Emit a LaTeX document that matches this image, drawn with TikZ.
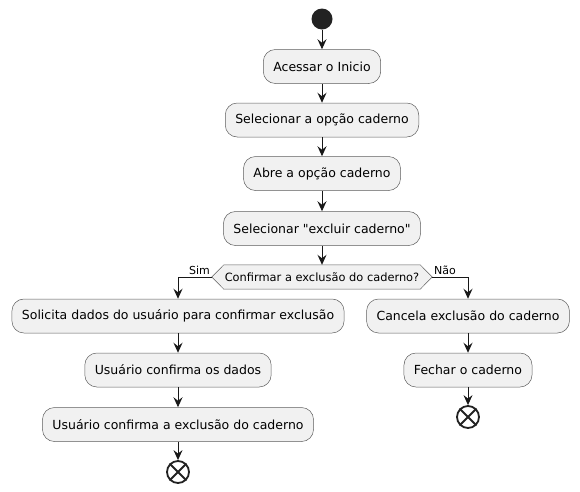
\documentclass[tikz,border=0pt]{standalone}
\usepackage{fontspec}
\setmainfont{DejaVu Sans}
\usetikzlibrary{arrows.meta}
\definecolor{boxfill}{HTML}{F1F1F1}
\definecolor{linecol}{HTML}{181818}
\definecolor{dotcol}{HTML}{222222}
\tikzset{
 act/.style={draw=linecol!70, fill=boxfill, rounded corners=12pt, minimum height=34pt,
   font=\fontsize{12.5}{14}\selectfont, line width=0.5pt, inner xsep=10pt},
 flow/.style={draw=linecol, line width=1pt, -{Stealth[length=10pt,width=9pt,inset=3.5pt]}},
 lbl/.style={font=\fontsize{11}{13}\selectfont, inner sep=1.5pt},
 stopnode/.style={circle, draw=dotcol, line width=1.8pt, minimum size=22pt, inner sep=0pt},
}

\begin{document}
\begin{tikzpicture}[x=1pt,y=-1pt]
\useasboundingbox (0,0) rectangle (580,491);

% main column
\node[circle, fill=dotcol, minimum size=21pt, inner sep=0pt] (start) at (322,19) {};
\node[act] (a1) at (322,66.5) {Acessar o Inicio};
\node[act] (a2) at (322,120) {Selecionar a opção caderno};
\node[act] (a3) at (322,173.5) {Abre a opção caderno};
\node[act] (a4) at (322,228.5) {Selecionar \textquotedbl excluir caderno\textquotedbl};

% decision
\node[font=\fontsize{11.4}{13}\selectfont, minimum width=220pt, minimum height=24pt, inner sep=0pt] (dec) at (322,277) {};
\draw[draw=linecol!70, fill=boxfill, line width=0.5pt] (dec.west) -- ([xshift=12pt]dec.north west) -- ([xshift=-12pt]dec.north east)
  -- (dec.east) -- ([xshift=-12pt]dec.south east) -- ([xshift=12pt]dec.south west) -- cycle;
\node[font=\fontsize{11.4}{13}\selectfont] at (dec) {Confirmar a exclusão do caderno?};

% sim
\node[act] (s1) at (178,316) {Solicita dados do usuário para confirmar exclusão};
\node[act] (s2) at (178,370) {Usuário confirma os dados};
\node[act] (s3) at (178,424.5) {Usuário confirma a exclusão do caderno};
\node[stopnode] (e1) at (178,472) {};
\draw[dotcol, line width=1.8pt] (e1.north west) -- (e1.south east) (e1.north east) -- (e1.south west);

% nao
\node[act] (c1) at (468,316) {Cancela exclusão do caderno};
\node[act] (c2) at (468,370) {Fechar o caderno};
\node[stopnode] (e2) at (468,417) {};
\draw[dotcol, line width=1.8pt] (e2.north west) -- (e2.south east) (e2.north east) -- (e2.south west);

\draw[flow] (start) -- (a1);
\draw[flow] (a1) -- (a2);
\draw[flow] (a2) -- (a3);
\draw[flow] (a3) -- (a4);
\draw[flow] (a4) -- (dec);
\draw[flow] (dec.west) node[lbl, above left] {Sim} -| (s1);
\draw[flow] (dec.east) node[lbl, above right] {Não} -| (c1);
\draw[flow] (s1) -- (s2);
\draw[flow] (s2) -- (s3);
\draw[flow] (s3) -- (e1);
\draw[flow] (c1) -- (c2);
\draw[flow] (c2) -- (e2);
\end{tikzpicture}
\end{document}
